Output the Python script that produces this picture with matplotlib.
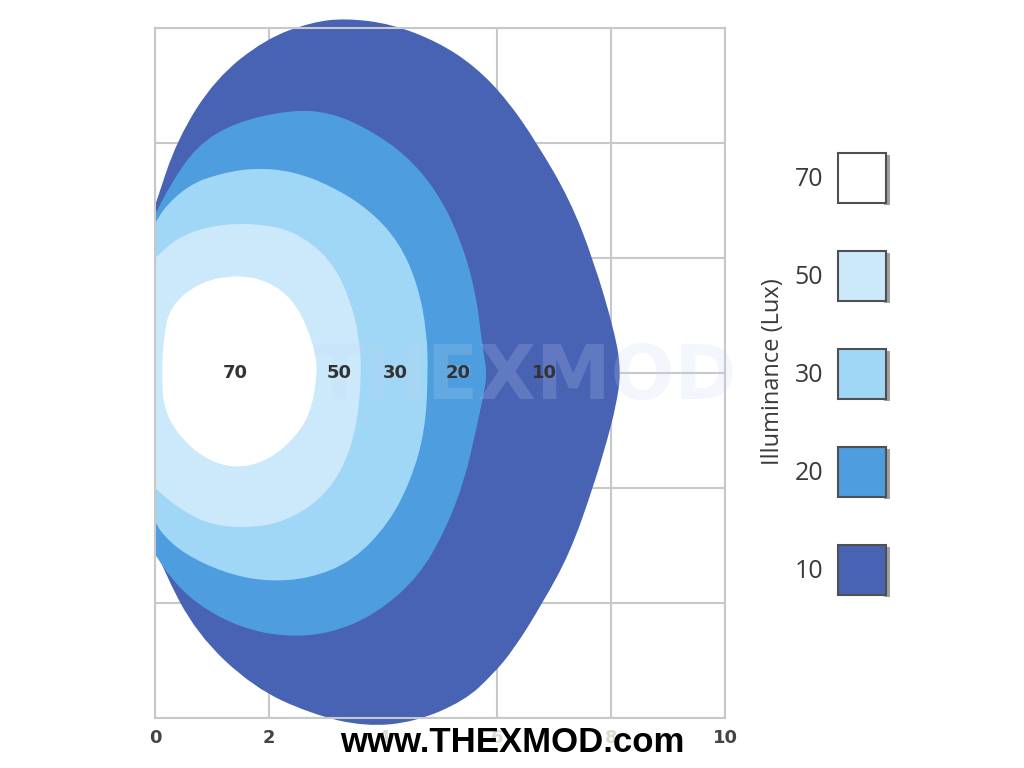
import matplotlib.pyplot as plt
from matplotlib.patches import PathPatch, Rectangle
from matplotlib.path import Path

# Beleuchtungsstaerke-Stufen (Lux) und Farben
levels = [10, 20, 30, 50, 70]
colors = ['#4863b4', '#4d9ddf', '#a0d6f6', '#cbe9fb', '#ffffff']

# Umrisse: obere Haelfte von x=0 bis zur Spitze, untere zurueck bis x=0
lux10_x = [0, 0.39, 1.06, 1.94, 2.74, 3.35, 4.15, 4.96, 5.62, 6.18, 6.70, 7.28, 7.69, 8.07, 8.18,
           8.08, 7.95, 7.69, 7.28, 6.80, 6.30, 5.92, 5.43, 4.56, 3.68, 2.74, 1.73, 0.73, 0.12, 0]
lux10_y = [2.91, 4.07, 5.12, 5.81, 6.10, 6.17, 6.07, 5.76, 5.33, 4.75, 4.0, 3.01, 1.97, 0.70, 0,
           -0.60, -1.11, -1.98, -3.13, -4.0, -4.80, -5.25, -5.70, -6.07, -6.15, -5.93, -5.47, -4.54, -3.38, -2.92]

lux20_x = [0, 0.26, 0.73, 1.40, 2.41, 3.08, 3.75, 4.42, 4.96, 5.36, 5.63, 5.75, 5.83,
           5.75, 5.63, 5.43, 5.09, 4.62, 3.88, 3.08, 2.27, 1.47, 0.73, 0.26, 0]
lux20_y = [2.75, 3.26, 3.95, 4.36, 4.58, 4.53, 4.24, 3.78, 3.14, 2.33, 1.40, 0.41, 0,
           -0.45, -1.0, -1.87, -2.74, -3.55, -4.19, -4.53, -4.59, -4.42, -4.02, -3.55, -3.15]

lux30_x = [0, 0.19, 0.59, 1.06, 1.73, 2.41, 3.08, 3.75, 4.29, 4.62, 4.77, 4.79,
           4.74, 4.49, 4.09, 3.48, 2.74, 1.94, 1.20, 0.52, 0.12, 0]
lux30_y = [2.6, 2.91, 3.26, 3.45, 3.57, 3.51, 3.26, 2.85, 2.27, 1.51, 0.70, 0,
           -1.0, -1.87, -2.63, -3.26, -3.57, -3.63, -3.47, -3.15, -2.80, -2.57]

lux50_x = [0, 0.39, 0.93, 1.60, 2.27, 2.74, 3.15, 3.42, 3.57, 3.63,
           3.53, 3.28, 2.88, 2.27, 1.60, 0.93, 0.39, 0]
lux50_y = [2.0, 2.35, 2.55, 2.61, 2.52, 2.27, 1.86, 1.28, 0.70, 0,
           -1.0, -1.70, -2.22, -2.59, -2.70, -2.63, -2.34, -2.0]

lux70_x = [0.15, 0.26, 0.79, 1.47, 2.0, 2.41, 2.67, 2.81, 2.85,
           2.73, 2.41, 1.94, 1.40, 0.86, 0.39, 0.15, 0.12]
lux70_y = [0.6, 1.16, 1.59, 1.71, 1.59, 1.28, 0.81, 0.35, 0,
           -0.71, -1.18, -1.54, -1.66, -1.49, -1.06, -0.6, 0]

outlines = [(lux10_x, lux10_y), (lux20_x, lux20_y), (lux30_x, lux30_y),
            (lux50_x, lux50_y), (lux70_x, lux70_y)]

# Beschriftung in der Mitte
label_x = [6.84, 5.32, 4.21, 3.23, 1.40]


def glatter_pfad(xs, ys):
    # geschlossene Kurve aus quadratischen Bezier-Stuecken, Ecken an x=0 bleiben spitz
    pts = list(zip(xs, ys))
    if xs[0] == 0:
        pts = [pts[0]] + pts + [pts[-1]]
    n = len(pts)
    mid = lambda a, b: ((a[0] + b[0]) / 2, (a[1] + b[1]) / 2)
    verts = [mid(pts[-1], pts[0])]
    codes = [Path.MOVETO]
    for i in range(n):
        verts += [pts[i], mid(pts[i], pts[(i + 1) % n])]
        codes += [Path.CURVE3, Path.CURVE3]
    verts.append(verts[0])
    codes.append(Path.CLOSEPOLY)
    return Path(verts, codes)


fig = plt.figure(figsize=(10.24, 7.68), dpi=100)
ax = fig.add_axes([155/1024, 1 - 718/768, 570/1024, 690/768])
ax.set_xlim(0, 10)
ax.set_ylim(-6, 6)
ax.set_xticks(range(0, 11, 2))
ax.set_yticks(range(-6, 7, 2))
ax.set_yticklabels([])
ax.tick_params(length=0, pad=8)
ax.grid(True, color='#c8c8c8', lw=1.5)
ax.set_axisbelow(True)
for s in ax.spines.values():
    s.set_color('#c8c8c8')
    s.set_linewidth(1.5)

for (xs, ys), c in zip(outlines, colors):
    ax.add_patch(PathPatch(glatter_pfad(xs, ys), facecolor=c, edgecolor='none',
                           clip_on=False, zorder=2))

# blasses Wasserzeichen in der Mitte
ax.text(6.5, -0.1, 'THEXMOD', fontsize=54, weight='bold', color='#c4d6f2', alpha=0.2,
        ha='center', va='center', zorder=3)

for lv, lx in zip(levels, label_x):
    ax.text(lx, 0, str(lv), fontsize=13, weight='bold', color='#333333',
            ha='center', va='center', zorder=4)

for t in ax.get_xticklabels():
    t.set_fontsize(13)
    t.set_fontweight('bold')
    t.set_color('#444444')
    if t.get_text() in ('4', '6', '8'):
        t.set_color('#dcdcd0')

# Legende rechts
leg = fig.add_axes([0, 0, 1, 1])
leg.set_xlim(0, 1024)
leg.set_ylim(768, 0)
leg.axis('off')
for i, (lv, c) in enumerate(zip(levels[::-1], colors[::-1])):
    top = 153 + i * 98
    leg.add_patch(Rectangle((884, top + 2), 6, 50, facecolor='#a0a0a0', edgecolor='none'))
    leg.add_patch(Rectangle((838, top), 48, 50, facecolor=c, edgecolor='#505050', lw=1.5))
    leg.text(823, top + 26, str(lv), fontsize=18, color='#3a3a3a', family='Open Sans',
             ha='right', va='center')
leg.text(773, 372, 'Illuminance (Lux)', fontsize=17, color='#3a3a3a', family='Open Sans',
         rotation=90, ha='center', va='center')

leg.text(512, 742, 'www.THEXMOD.com', fontsize=25, weight='bold', color='black',
         family='Liberation Sans', ha='center', va='center')

fig.savefig('out.png', dpi=100)
